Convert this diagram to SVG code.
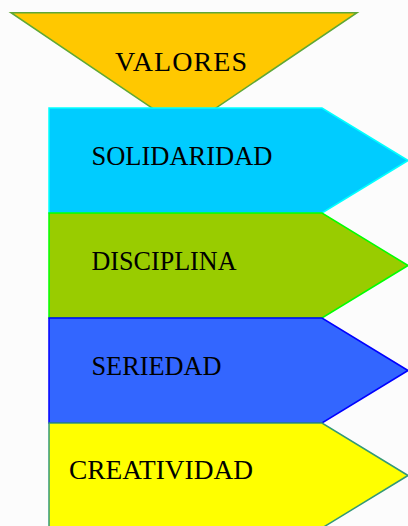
<svg xmlns="http://www.w3.org/2000/svg" width="408" height="526" viewBox="0 0 408 526">
<style>
  .lbl { font-family: "Liberation Serif", "Times New Roman", serif; font-size: 26.5px; fill: #000; }
  .big { font-size: 28px; }
  .shape { stroke-width: 1.5; stroke-linejoin: miter; }
</style>
<rect x="0" y="0" width="408" height="526" fill="#fcfcfc"/>
<g id="connectors"></g>
<g id="valores">
  <polygon class="shape" points="11,12.7 357,12.7 184,129.5" fill="#ffc800" stroke="#5fa836"/>
  <text class="lbl big" x="115" y="71" textLength="132" lengthAdjust="spacing">VALORES</text>
</g>
<g id="solidaridad">
  <polygon class="shape" points="49,108 322,108 408,160.5 322,213 49,213" fill="#00ccff" stroke="#00ffff"/>
  <text class="lbl" x="91.5" y="165" textLength="181" lengthAdjust="spacingAndGlyphs">SOLIDARIDAD</text>
</g>
<g id="disciplina">
  <polygon class="shape" points="49,213 322,213 408,265.5 322,318 49,318" fill="#99cc00" stroke="#00ff00"/>
  <text class="lbl" x="91.5" y="270" textLength="145" lengthAdjust="spacingAndGlyphs">DISCIPLINA</text>
</g>
<g id="seriedad">
  <polygon class="shape" points="49,318 322,318 408,370.5 322,423 49,423" fill="#3366ff" stroke="#0000ff"/>
  <text class="lbl" x="91.5" y="375" textLength="130" lengthAdjust="spacingAndGlyphs">SERIEDAD</text>
</g>
<g id="creatividad">
  <polygon class="shape" points="49,423 322,423 408,475.5 322,528 49,528" fill="#ffff00" stroke="#339977"/>
  <text class="lbl" x="69" y="479" textLength="184" lengthAdjust="spacingAndGlyphs">CREATIVIDAD</text>
</g>
</svg>
